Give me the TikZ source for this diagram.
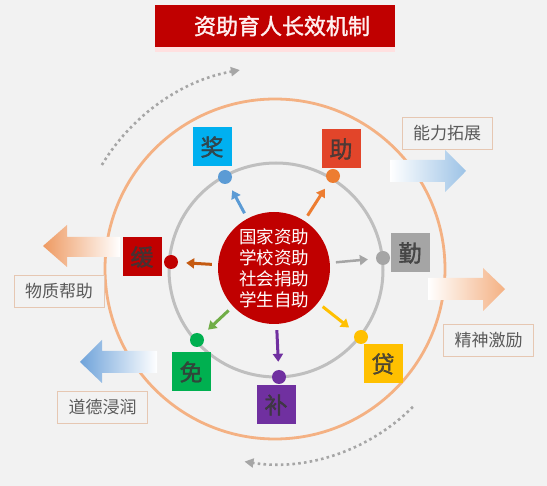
\documentclass[tikz,border=0pt]{standalone}
\usepackage{fontspec}
\setmainfont{Noto Sans CJK SC}
\newfontfamily\cjkb[FakeBold=1.6]{Noto Sans CJK SC}
\usetikzlibrary{arrows.meta}
\definecolor{bg}{HTML}{F2F2F2}
\definecolor{titred}{HTML}{C00000}
\definecolor{ringor}{HTML}{F4B183}
\definecolor{ringgr}{HTML}{BFBFBF}
\definecolor{labd}{HTML}{E6C7B2}
\definecolor{labt}{HTML}{595959}
\definecolor{dotc}{HTML}{A6A6A6}
\definecolor{cJ}{HTML}{00B0F0}
\definecolor{cJd}{HTML}{5B9BD5}
\definecolor{cZ}{HTML}{E2452A}
\definecolor{cZd}{HTML}{ED7D31}
\definecolor{cQ}{HTML}{A5A5A5}
\definecolor{cD}{HTML}{FFC000}
\definecolor{cB}{HTML}{7030A0}
\definecolor{cM}{HTML}{00B050}
\definecolor{cMa}{HTML}{70AD47}
\definecolor{cH}{HTML}{C00000}
\definecolor{cHa}{HTML}{C55A11}
\definecolor{arBlue}{HTML}{9DC3E6}
\definecolor{arBlueL}{HTML}{6FA3DA}
\definecolor{arOr}{HTML}{F4B183}
\definecolor{arOrL}{HTML}{EE9A62}
\tikzset{
  sq/.style={minimum width=39pt, minimum height=39pt, inner sep=0pt,
    font=\cjkb\fontsize{23}{23}\selectfont, text=black!78, text opacity=0.85},
  dotn/.style={circle, minimum size=14pt, inner sep=0pt},
  conn/.style={line width=3pt, -{Triangle[length=8pt,width=10pt]},
    shorten <=6pt, shorten >=8pt},
  lab/.style={draw=labd, fill=bg, line width=0.8pt, minimum width=90pt,
    minimum height=32pt, inner sep=0pt, text=labt,
    font=\fontsize{17}{17}\selectfont},
  dotarc/.style={draw=dotc, line width=2.6pt, dash pattern=on 2.6pt off 3.2pt,
    -{Triangle[length=9pt,width=9pt]}}
}
\begin{document}
\begin{tikzpicture}[x=1pt,y=-1pt]
\useasboundingbox (0,0) rectangle (547,486);
\fill[bg] (0,0) rectangle (547,486);

% title
\fill[red!12!white] (155,47) rectangle (395,52);
\node[fill=titred, minimum width=240pt, minimum height=42pt, inner sep=0pt]
  (titlebox) at (275,26) {};
\node[text=red!6!white, font=\cjkb\fontsize{22}{22}\selectfont, inner sep=0pt]
  (title) at (282,26) {资助育人长效机制};

% rings
\coordinate (O) at (275,269);
\draw[ringor, line width=2.8pt] (O) circle[radius=170];
\draw[ringgr, line width=3pt] (276,270) circle[radius=107];

% dotted arcs
\draw[dotarc] (O) ++(-149:202) arc[start angle=-149, end angle=-100, radius=202];
\draw[dotarc] (O) ++(45:195) arc[start angle=45, end angle=99, radius=195];

% gradient block arrows
\shade[left color=white, right color=arBlue]
  (390,160) -- (445,160) -- (445,150) -- (466,171) -- (445,192) -- (445,182) -- (390,182) -- cycle;
\shade[left color=white, right color=arOr]
  (428,278) -- (483,278) -- (483,268) -- (505,289) -- (483,311) -- (483,300) -- (428,300) -- cycle;
\shade[left color=arOrL, right color=white]
  (120,237) -- (67,237) -- (67,225) -- (43,246) -- (67,267) -- (67,257) -- (120,257) -- cycle;
\shade[left color=arBlueL, right color=white]
  (157,351) -- (102,351) -- (102,340) -- (80,362) -- (102,383) -- (102,373) -- (157,373) -- cycle;

% labels
\node[lab] (l1) at (447,133) {能力拓展};
\node[lab] (l2) at (488.5,340.5) {精神激励};
\node[lab] (l3) at (59,291) {物质帮助};
\node[lab] (l4) at (102.5,407) {道德浸润};

% centre
\node[circle, fill=titred, minimum size=112pt, inner sep=0pt, text=white,
  align=center, font=\fontsize{17.5}{21}\selectfont] (ctr) at (274,268)
  {国家资助\\学校资助\\社会捐助\\学生自助};

% boxes
\node[sq, fill=cJ] (bJ) at (212,147) {奖};
\node[sq, fill=cZ] (bZ) at (341,149) {助};
\node[sq, fill=cQ] (bQ) at (410,253) {勤};
\node[sq, fill=cD] (bD) at (383,364) {贷};
\node[sq, fill=cB] (bB) at (276,405) {补};
\node[sq, fill=cM] (bM) at (191,372) {免};
\node[sq, fill=cH] (bH) at (142,257) {缓};

% dots
\node[dotn, fill=cJd] (dJ) at (225,177) {};
\node[dotn, fill=cZd] (dZ) at (333,176) {};
\node[dotn, fill=cQ] (dQ) at (383,258) {};
\node[dotn, fill=cD] (dD) at (361,337) {};
\node[dotn, fill=cB] (dB) at (279,377) {};
\node[dotn, fill=cM] (dM) at (197,340) {};
\node[dotn, fill=cH] (dH) at (171,262) {};

% connectors
\draw[conn, draw=cJd, fill=cJd] (ctr) -- (dJ);
\draw[conn, draw=cZd, fill=cZd] (ctr) -- (dZ);
\draw[conn, draw=cQ, fill=cQ, line width=2.5pt] (ctr) -- (dQ);
\draw[conn, draw=cD, fill=cD] (ctr) -- (dD);
\draw[conn, draw=cB, fill=cB] (ctr) -- (dB);
\draw[conn, draw=cMa, fill=cMa] (ctr) -- (dM);
\draw[conn, draw=cHa, fill=cHa] (ctr) -- (dH);
\end{tikzpicture}
\end{document}
